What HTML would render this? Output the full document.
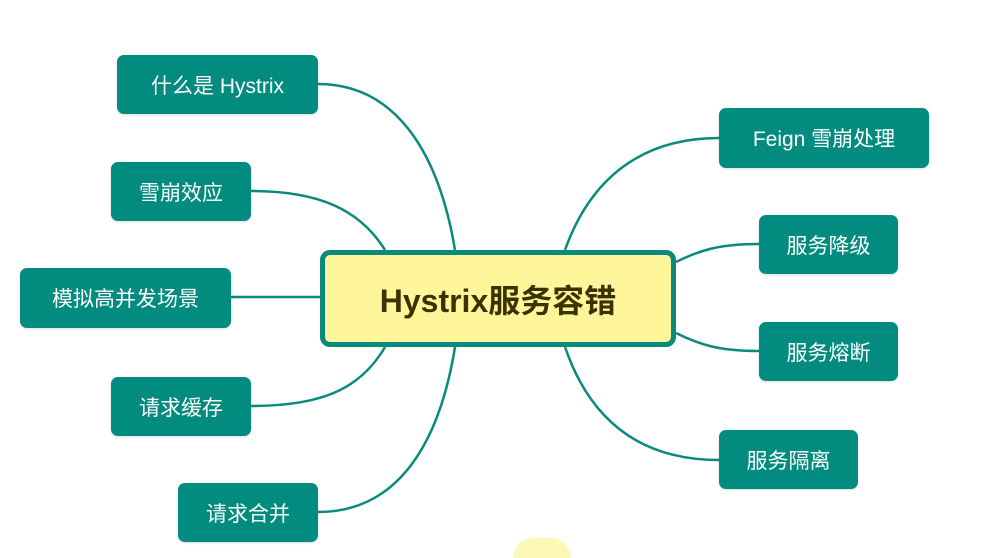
<!DOCTYPE html>
<html style="overflow:hidden;width:985px;height:558px"><head><meta charset="utf-8"><style>
html,body{margin:0;width:985px;height:558px;overflow:hidden}
body{background:#fff;position:relative;font-family:"Liberation Sans","Noto Sans CJK SC",sans-serif}
.n{position:absolute;background:#028b7f;color:#fff;border-radius:7px;display:flex;align-items:center;justify-content:center;font-size:21px;box-shadow:0 1px 2px rgba(0,0,0,.15)}
.c{position:absolute;left:320px;top:250px;width:346px;height:87px;background:#fff59a;border:5px solid #0a8a7c;border-radius:10px;display:flex;align-items:center;justify-content:center;font-size:32px;font-weight:bold;color:#3a3300}
</style></head><body>
<svg width="985" height="558" style="position:absolute;left:0;top:0" fill="none" stroke="#0a8a7c" stroke-width="2.5">
<path d="M318,84 C400,84 440,160 455,250"/>
<path d="M251,191 C320,191 360,210 385,250"/>
<path d="M231,297 L320,297"/>
<path d="M251,406 C320,406 360,390 385,347"/>
<path d="M318,512 C400,512 440,440 455,347"/>
<path d="M719,138 C640,138 590,180 565,250"/>
<path d="M759,244 C720,244 700,250 676,262"/>
<path d="M759,351 C720,351 700,345 676,333"/>
<path d="M719,460 C640,460 590,420 565,347"/>
</svg>
<div style="position:absolute;left:513px;top:538px;width:58px;height:20px;border-radius:29px 29px 0 0;background:#fdf8b8"></div>
<div class="c">Hystrix服务容错</div>
<div class="n" style="left:117px;top:55px;width:201px;height:59px">什么是 Hystrix</div>
<div class="n" style="left:111px;top:162px;width:140px;height:59px">雪崩效应</div>
<div class="n" style="left:20px;top:268px;width:211px;height:60px">模拟高并发场景</div>
<div class="n" style="left:111px;top:377px;width:140px;height:59px">请求缓存</div>
<div class="n" style="left:178px;top:483px;width:140px;height:59px">请求合并</div>
<div class="n" style="left:719px;top:108px;width:210px;height:60px">Feign 雪崩处理</div>
<div class="n" style="left:759px;top:215px;width:139px;height:59px">服务降级</div>
<div class="n" style="left:759px;top:322px;width:139px;height:59px">服务熔断</div>
<div class="n" style="left:719px;top:430px;width:139px;height:59px">服务隔离</div>
</body></html>
